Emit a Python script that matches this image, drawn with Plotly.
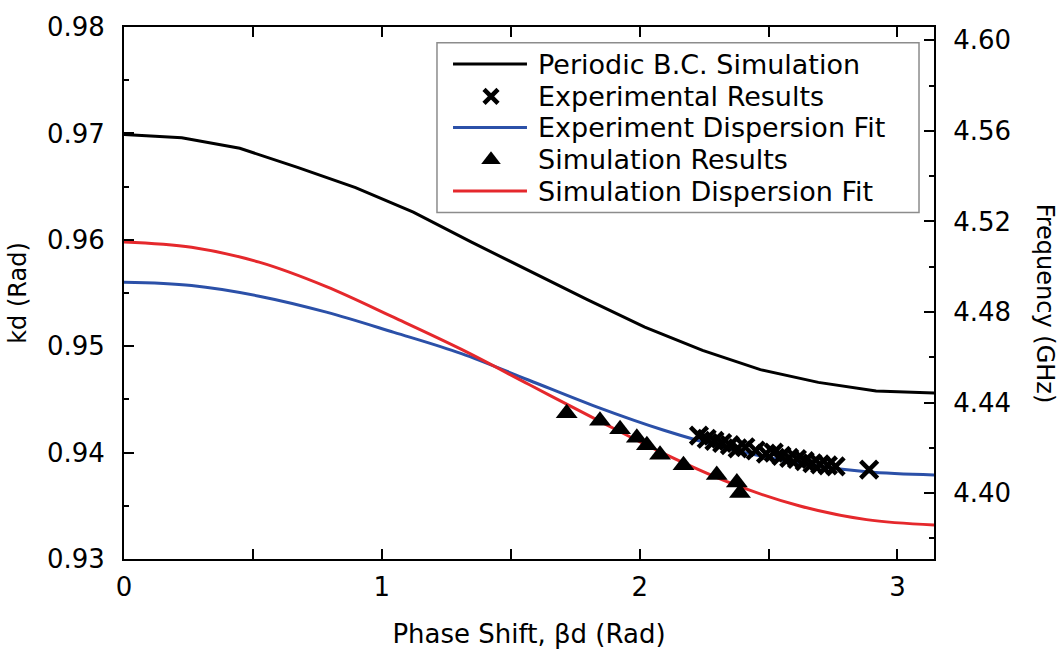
import math
import plotly.graph_objects as go

# ---------------- data ----------------
# Periodic B.C. simulation (black line)
pbc_bd = [0.000, 0.224, 0.449, 0.673, 0.898, 1.122, 1.346, 1.571, 1.795, 2.020, 2.244, 2.468, 2.693, 2.917, 3.142]
pbc_kd = [0.9699, 0.9696, 0.9686, 0.9668, 0.9649, 0.9626, 0.9598, 0.9571, 0.9544, 0.9518, 0.9496, 0.9478, 0.9466, 0.9458, 0.9456]

# Experimental results (x markers)
exp_bd = [2.23, 2.26, 2.29, 2.32, 2.35, 2.38, 2.41, 2.45, 2.49, 2.52, 2.55, 2.58, 2.61, 2.64, 2.67, 2.70, 2.73, 2.76, 2.89]
exp_kd = [0.9416, 0.9413, 0.9411, 0.9409, 0.9407, 0.9404, 0.9405, 0.9402, 0.9399, 0.9400, 0.9397, 0.9395, 0.9394, 0.9392, 0.9390, 0.9389, 0.9388, 0.9387, 0.9384]

# Experiment dispersion fit (blue line)
efit_bd = [0.000, 0.262, 0.524, 0.785, 1.047, 1.309, 1.571, 1.833, 2.094, 2.356, 2.618, 2.880, 3.1416]
efit_kd = [0.9560, 0.9557, 0.9547, 0.9532, 0.9513, 0.9493, 0.9468, 0.9443, 0.9421, 0.9403, 0.9390, 0.9382, 0.9379]

# Simulation results (triangles)
sim_bd = [1.717, 1.846, 1.924, 1.989, 2.028, 2.079, 2.170, 2.299, 2.377, 2.389]
sim_kd = [0.9437, 0.9430, 0.9422, 0.9414, 0.9407, 0.9398, 0.9388, 0.9379, 0.9372, 0.9362]

# Simulation dispersion fit (red line)
sfit_bd = [0.000, 0.262, 0.524, 0.785, 1.047, 1.309, 1.571, 1.833, 2.094, 2.356, 2.618, 2.880, 3.1416]
sfit_kd = [0.9598, 0.9593, 0.9579, 0.9556, 0.9527, 0.9497, 0.9464, 0.9431, 0.9399, 0.9371, 0.9350, 0.9337, 0.9332]

legend_names = ["Periodic B.C. Simulation", "Experimental Results", "Experiment Dispersion Fit",
                "Simulation Results", "Simulation Dispersion Fit"]

x_ticks = [0, 1, 2, 3]
freq_ticks = [4.40, 4.44, 4.48, 4.52, 4.56, 4.60]

BLACK = "#000000"
BLUE = "#2B50A8"
RED = "#E5282C"
FONT = "DejaVu Sans"

fig = go.Figure()
fig.add_trace(go.Scatter(x=pbc_bd, y=pbc_kd, mode="lines", line=dict(color=BLACK, width=3), name=legend_names[0]))
fig.add_trace(go.Scatter(x=efit_bd, y=efit_kd, mode="lines", line=dict(color=BLUE, width=3, shape="spline"), name=legend_names[2]))
fig.add_trace(go.Scatter(x=sfit_bd, y=sfit_kd, mode="lines", line=dict(color=RED, width=3, shape="spline"), name=legend_names[4]))
fig.add_trace(go.Scatter(x=exp_bd, y=exp_kd, mode="markers", name=legend_names[1],
                         marker=dict(symbol="x-thin", size=17, color=BLACK, line=dict(color=BLACK, width=4.5))))
fig.add_trace(go.Scatter(x=sim_bd, y=sim_kd, mode="markers", name=legend_names[3],
                         marker=dict(symbol="triangle-up", size=19, color=BLACK)))
# empty trace so the right-hand frequency axis is drawn
fig.add_trace(go.Scatter(x=[None], y=[None], yaxis="y2", mode="markers", showlegend=False, hoverinfo="skip"))

# ---------------- hand-built legend (matches the long line samples) ----------------
row_y = [0.9303, 0.8697, 0.8110, 0.7505, 0.6917]
line_x0, line_x1, mark_x, text_x = 0.4062, 0.4975, 0.4531, 0.5086
shapes = [dict(type="rect", xref="paper", yref="paper", x0=0.3864, x1=0.9815, y0=0.6514, y1=0.9706,
               line=dict(color="#8C8C8C", width=1.5), fillcolor="white", layer="below")]
for i, col in [(0, BLACK), (2, BLUE), (4, RED)]:
    shapes.append(dict(type="line", xref="paper", yref="paper", x0=line_x0, x1=line_x1, y0=row_y[i], y1=row_y[i],
                       line=dict(color=col, width=3)))
fig.add_trace(go.Scatter(x=[mark_x], y=[row_y[1]], xaxis="x3", yaxis="y3", mode="markers", showlegend=False,
                         hoverinfo="skip", cliponaxis=False,
                         marker=dict(symbol="x-thin", size=14, color=BLACK, line=dict(color=BLACK, width=4.5))))
fig.add_trace(go.Scatter(x=[mark_x], y=[row_y[3]], xaxis="x3", yaxis="y3", mode="markers", showlegend=False,
                         hoverinfo="skip", cliponaxis=False,
                         marker=dict(symbol="triangle-up", size=17, color=BLACK)))
annotations = []
for i, name in enumerate(legend_names):
    annotations.append(dict(text=name, xref="paper", yref="paper", x=text_x, y=row_y[i], xanchor="left",
                            yanchor="middle", showarrow=False, font=dict(family=FONT, size=27, color=BLACK)))
annotations.append(dict(text="Frequency (GHz)", xref="paper", yref="paper", x=1.137, y=0.48, textangle=90,
                        xanchor="center", yanchor="middle", showarrow=False,
                        font=dict(family=FONT, size=24, color=BLACK)))

axis_common = dict(showgrid=False, zeroline=False, showline=True, linewidth=2, linecolor=BLACK,
                   ticks="inside", ticklen=10, tickwidth=2, tickcolor=BLACK,
                   tickfont=dict(family=FONT, size=26, color=BLACK))

fig.update_layout(
    width=1064, height=656,
    margin=dict(l=124, r=130, t=18, b=93),
    paper_bgcolor="white", plot_bgcolor="white",
    showlegend=False,
    font=dict(family=FONT, size=26, color=BLACK),
    xaxis=dict(range=[0, math.pi], tickvals=x_ticks, mirror="allticks",
               minor=dict(dtick=0.5, tick0=0, ticks="inside", ticklen=5, tickwidth=2, tickcolor=BLACK),
               title=dict(text="Phase Shift, βd (Rad)", font=dict(family=FONT, size=26), standoff=24),
               ticklabelstandoff=4, **axis_common),
    yaxis=dict(range=[0.93, 0.98], dtick=0.01, tick0=0.93, tickformat=".2f", mirror=False,
               minor=dict(dtick=0.005, tick0=0.93, ticks="inside", ticklen=5, tickwidth=2, tickcolor=BLACK),
               title=dict(text="kd (Rad)", font=dict(family=FONT, size=24), standoff=14),
               ticklabelstandoff=12, **axis_common),
    yaxis2=dict(overlaying="y", side="right", range=[4.3709, 4.6059], tickvals=freq_ticks, tickformat=".2f",
                minor=dict(dtick=0.02, tick0=4.40, ticks="inside", ticklen=5, tickwidth=2, tickcolor=BLACK),
                ticklabelstandoff=12, **axis_common),
    xaxis3=dict(overlaying="x", range=[0, 1], visible=False),
    yaxis3=dict(overlaying="y", anchor="x3", range=[0, 1], visible=False),
    shapes=shapes,
    annotations=annotations,
)

fig.write_html("out.html")
